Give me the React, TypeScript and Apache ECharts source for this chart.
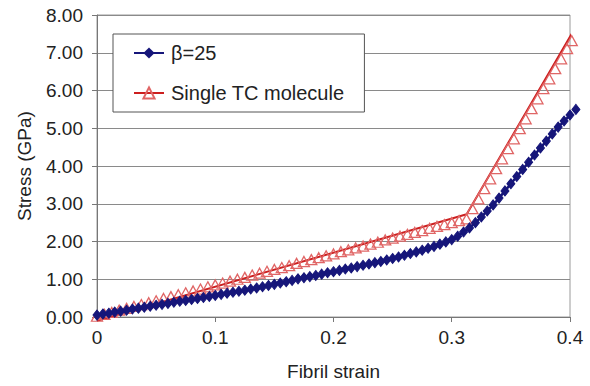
import React, { useEffect, useRef } from "react";
import * as echarts from "echarts";

// β=25 series (strain, stress GPa)
const betaStrain = [
  0, 0.005, 0.01, 0.015, 0.02, 0.025, 0.03, 0.035, 0.04, 0.045,
  0.05, 0.055, 0.06, 0.065, 0.07, 0.075, 0.08, 0.085, 0.09, 0.095,
  0.1, 0.105, 0.11, 0.115, 0.12, 0.125, 0.13, 0.135, 0.14, 0.145,
  0.15, 0.155, 0.16, 0.165, 0.17, 0.175, 0.18, 0.185, 0.19, 0.195,
  0.2, 0.205, 0.21, 0.215, 0.22, 0.225, 0.23, 0.235, 0.24, 0.245,
  0.25, 0.255, 0.26, 0.265, 0.27, 0.275, 0.28, 0.285, 0.29, 0.295,
  0.3, 0.305, 0.31, 0.315, 0.32, 0.325, 0.33, 0.335, 0.34, 0.345,
  0.35, 0.355, 0.36, 0.365, 0.37, 0.375, 0.38, 0.385, 0.39, 0.395,
  0.4, 0.405,
];
const betaStress = [
  0.05, 0.08, 0.1, 0.13, 0.155, 0.18, 0.21, 0.235, 0.26, 0.285,
  0.31, 0.335, 0.36, 0.39, 0.415, 0.44, 0.465, 0.49, 0.515, 0.545,
  0.57, 0.6, 0.63, 0.655, 0.68, 0.71, 0.74, 0.77, 0.8, 0.835,
  0.865, 0.9, 0.935, 0.97, 1.01, 1.04, 1.07, 1.1, 1.135, 1.17,
  1.2, 1.235, 1.27, 1.3, 1.335, 1.37, 1.405, 1.44, 1.47, 1.51,
  1.55, 1.59, 1.635, 1.68, 1.725, 1.77, 1.82, 1.87, 1.93, 1.99,
  2.05, 2.14, 2.25, 2.36, 2.5, 2.65, 2.81, 2.97, 3.15, 3.34,
  3.53, 3.72, 3.91, 4.1, 4.29, 4.48, 4.66, 4.85, 5.03, 5.19,
  5.35, 5.5,
];

// Single TC molecule markers
const tcStrain = [
  0, 0.00625, 0.0125, 0.01875, 0.025, 0.03125, 0.0375, 0.04375, 0.05, 0.05625,
  0.0625, 0.06875, 0.075, 0.08125, 0.0875, 0.09375, 0.1, 0.10625, 0.1125, 0.11875,
  0.125, 0.13125, 0.1375, 0.14375, 0.15, 0.15625, 0.1625, 0.16875, 0.175, 0.18125,
  0.1875, 0.19375, 0.2, 0.20625, 0.2125, 0.21875, 0.225, 0.23125, 0.2375, 0.24375,
  0.25, 0.25625, 0.2625, 0.26875, 0.275, 0.28125, 0.2875, 0.29375, 0.3, 0.30625,
  0.3125, 0.3175, 0.3225, 0.3275, 0.3325, 0.3375, 0.3425, 0.3475, 0.3525, 0.3575,
  0.3625, 0.3675, 0.3725, 0.3775, 0.3825, 0.3875, 0.3925, 0.3975, 0.4015,
];
const tcStress = [
  0.02, 0.07, 0.12, 0.18, 0.23, 0.28, 0.33, 0.38, 0.43, 0.49,
  0.54, 0.59, 0.64, 0.69, 0.74, 0.8, 0.85, 0.9, 0.95, 1.0,
  1.05, 1.11, 1.16, 1.21, 1.26, 1.31, 1.36, 1.42, 1.47, 1.52,
  1.57, 1.62, 1.67, 1.73, 1.78, 1.83, 1.88, 1.93, 1.98, 2.04,
  2.09, 2.14, 2.19, 2.24, 2.29, 2.35, 2.4, 2.45, 2.5, 2.55,
  2.6, 2.87, 3.13, 3.4, 3.66, 3.93, 4.19, 4.46, 4.72, 4.99,
  5.25, 5.52, 5.78, 6.05, 6.31, 6.58, 6.84, 7.11, 7.32,
];

// Single TC molecule straight line
const tcLineStrain = [0, 0.3126, 0.407];
const tcLineStress = [-0.1, 2.72, 7.8];

const xTicks = [0, 0.1, 0.2, 0.3, 0.4];
const yTicks = [0, 1, 2, 3, 4, 5, 6, 7, 8];

const FONT = "'Liberation Sans', Arial, sans-serif";
const NAVY = "#16167a";
const RED = "#cc1f1f";
const PINK = "#e06666";

export default function App() {
  const ref = useRef<HTMLDivElement>(null);
  useEffect(() => {
    document.body.style.margin = "0";
    if (!ref.current) return;
    const chart = echarts.init(ref.current, null, { renderer: "svg" });
    const zip = (a: number[], b: number[]) => a.map((v, i) => [v, b[i]]);
    chart.setOption({
      animation: false,
      backgroundColor: "#fff",
      textStyle: { fontFamily: FONT },
      grid: {
        left: 97,
        right: 20,
        top: 15,
        bottom: 64,
        show: true,
        borderColor: "#9a9a9a",
        borderWidth: 1,
        backgroundColor: "transparent",
      },
      legend: {
        orient: "vertical",
        left: 113,
        top: 34,
        padding: [9, 20, 9, 20],
        itemWidth: 30,
        itemHeight: 14,
        itemGap: 20,
        backgroundColor: "#fff",
        borderColor: "#555",
        borderWidth: 1,
        borderRadius: 0,
        textStyle: { fontSize: 20, color: "#222", fontFamily: FONT, lineHeight: 19, padding: [0, 0, 0, 2] },
        data: [
          { name: "β=25" },
          {
            name: "Single TC molecule",
            lineStyle: { color: RED, width: 2, opacity: 1 },
          },
        ],
      },
      xAxis: {
        type: "value",
        min: xTicks[0],
        max: xTicks[xTicks.length - 1],
        interval: 0.1,
        name: "Fibril strain",
        nameLocation: "middle",
        nameGap: 45,
        nameTextStyle: { fontSize: 19, color: "#222", fontFamily: FONT },
        axisLine: { show: true, onZero: false, lineStyle: { color: "#777", width: 1 } },
        axisTick: { show: true, inside: false, length: 5, lineStyle: { color: "#777" } },
        axisLabel: {
          fontSize: 19,
          color: "#222",
          margin: 11,
          fontFamily: FONT,
          formatter: (v: number) => (v === 0 ? "0" : String(Math.round(v * 10) / 10)),
        },
        splitLine: { show: false },
      },
      yAxis: {
        type: "value",
        min: yTicks[0],
        max: yTicks[yTicks.length - 1],
        interval: 1,
        name: "Stress (GPa)",
        nameLocation: "middle",
        nameGap: 63,
        nameTextStyle: { fontSize: 19, color: "#222", fontFamily: FONT },
        axisLine: { show: true, lineStyle: { color: "#777", width: 1 } },
        axisTick: { show: true, inside: false, length: 5, lineStyle: { color: "#777" } },
        axisLabel: {
          fontSize: 19,
          color: "#222",
          margin: 14,
          fontFamily: FONT,
          formatter: (v: number) => v.toFixed(2),
        },
        splitLine: { show: true, lineStyle: { color: "#8a8a8a", width: 1 } },
      },
      series: [
        {
          name: "Single TC molecule line",
          type: "line",
          data: zip(tcLineStrain, tcLineStress),
          symbol: "none",
          clip: false,
          lineStyle: { color: RED, width: 2 },
          z: 3,
          silent: true,
        },
        {
          name: "Single TC molecule",
          type: "line",
          data: zip(tcStrain, tcStress),
          symbol: "triangle",
          symbolSize: [11, 10],
          clip: false,
          itemStyle: { color: "rgba(255,255,255,0)", borderColor: PINK, borderWidth: 1.3 },
          lineStyle: { color: RED, width: 0, opacity: 0 },
          z: 4,
        },
        {
          name: "β=25",
          type: "line",
          data: zip(betaStrain, betaStress),
          symbol: "diamond",
          symbolSize: [8, 10],
          clip: false,
          itemStyle: { color: NAVY, borderColor: NAVY },
          lineStyle: { color: NAVY, width: 2.5 },
          z: 5,
        },
      ],
    });
    return () => chart.dispose();
  }, []);
  return <div ref={ref} style={{ width: 590, height: 386 }} />;
}
